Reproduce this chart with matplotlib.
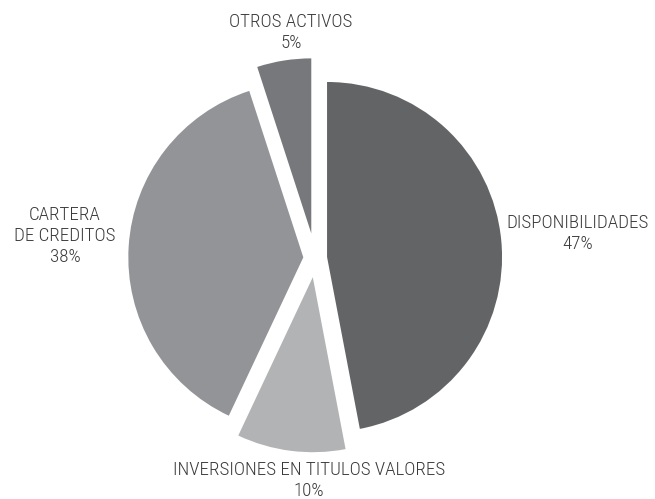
import matplotlib
matplotlib.use("Agg")
import matplotlib.pyplot as plt

# datos del grafico
categorias = ["DISPONIBILIDADES", "INVERSIONES EN TITULOS VALORES",
              "CARTERA\nDE CREDITOS", "OTROS ACTIVOS"]
porcentajes = [47, 10, 38, 5]
colores = ["#636466", "#b2b3b5", "#939498", "#77787b"]
separacion = [0.068, 0.11, 0.068, 0.143]

plt.rcParams['font.family'] = ['Roboto Condensed', 'DejaVu Sans']

# centro y radio en pixeles
cx, cy, r = 315.2, 258.1, 175.0


def px(x, y):
    return (x - cx) / r, (cy - y) / r


fig = plt.figure(figsize=(6.55, 4.99), dpi=100)
ax = fig.add_axes([0, 0, 1, 1])
ax.pie(porcentajes, colors=colores, explode=separacion, startangle=90,
       counterclock=False, radius=1)
ax.set_xlim(-cx / r, (655 - cx) / r)
ax.set_ylim(-(499 - cy) / r, cy / r)
ax.axis('off')

# posiciones de las etiquetas (pixeles)
pos_etiquetas = [(578, 233.5), (309, 480.5), (65, 236), (291, 32.5)]
for cat, pct, (x, y) in zip(categorias, porcentajes, pos_etiquetas):
    ax.text(*px(x, y), f"{cat}\n{pct}%", ha='center', va='center',
            fontsize=13.7, fontweight='light', color='#3a3a3a',
            linespacing=1.2)

fig.savefig("out.png", dpi=100)
